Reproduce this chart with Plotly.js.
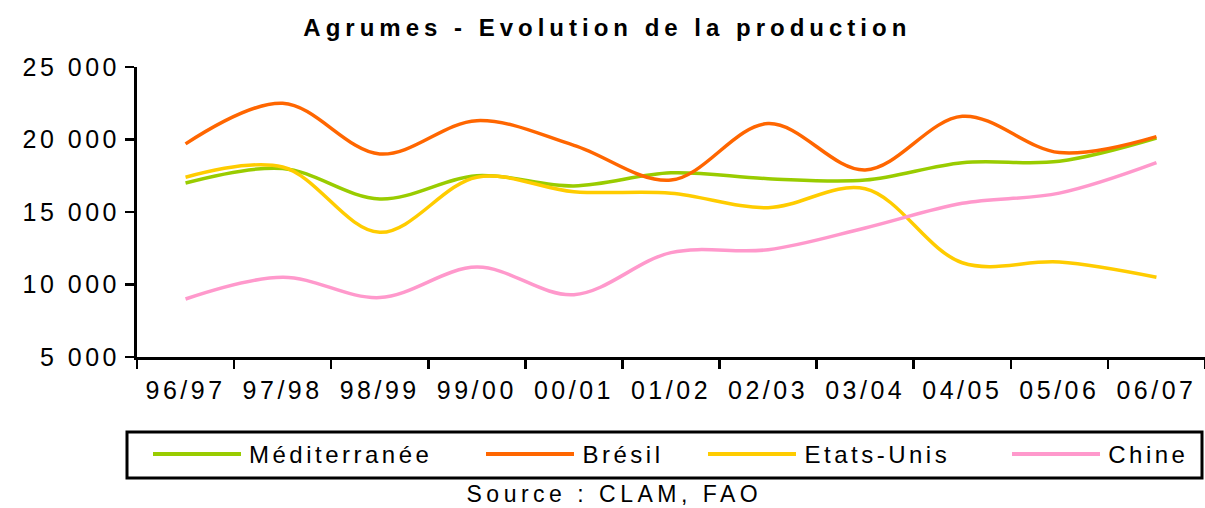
<!DOCTYPE html>
<html>
<head>
<meta charset="utf-8">
<script src="https://cdn.plot.ly/plotly-3.0.1.min.js"></script>
<style>
  html, body { margin: 0; padding: 0; background: #fff; }
  #chart { width: 1205px; height: 508px; }
  .main-svg text { letter-spacing: 3.5px; }
  .gtitle { letter-spacing: 5px !important; }
  .annotation text { letter-spacing: 3.5px; }
  .annotation[data-index="4"] text { letter-spacing: 4.5px !important; }
</style>
</head>
<body>
<div id="chart"></div>
<script>
const categories = ['96/97','97/98','98/99','99/00','00/01','01/02','02/03','03/04','04/05','05/06','06/07'];
const mediterranee = [17000, 18000, 15900, 17500, 16800, 17700, 17300, 17200, 18400, 18500, 20100];
const bresil       = [19700, 22500, 19000, 21300, 19600, 17200, 21100, 17900, 21600, 19100, 20200];
const etatsUnis    = [17400, 18100, 13600, 17400, 16400, 16300, 15300, 16600, 11500, 11550, 10500];
const chine        = [ 9000, 10500,  9100, 11200,  9300, 12200, 12400, 13900, 15600, 16300, 18400];

const seriesNames  = ['Méditerranée', 'Brésil', 'Etats-Unis', 'Chine'];
const seriesValues = [mediterranee, bresil, etatsUnis, chine];
const seriesColors = ['#99CC00', '#FF6600', '#FFCC00', '#FF99CC'];

const titleText  = 'Agrumes - Evolution de la production';
const sourceText = 'Source : CLAM, FAO';

// plot frame in pixels
const W = 1205, H = 508;
const mL = 137, mR = 0, mT = 67, mB = 151;
const plotW = W - mL - mR, plotH = H - mT - mB;
const px2x = p => (p - mL) / plotW;
const py2y = p => (H - mB - p) / plotH;
const FONT = 'Liberation Sans, Arial, sans-serif';

const traces = seriesNames.map((n, i) => ({
  type: 'scatter',
  mode: 'lines',
  name: n,
  x: categories,
  y: seriesValues[i],
  line: { color: seriesColors[i], width: 3.5, shape: 'spline', smoothing: 1 },
  hoverinfo: 'x+y+name'
}));

// legend (drawn as a framed box under the chart)
const legLineStart = [153, 486, 708, 1012];
const legLineLen = 88;
const legY = 454;
const legSpacing = 3.5;
const shapes = [{
  type: 'rect', xref: 'paper', yref: 'paper',
  x0: px2x(127), x1: px2x(1202), y0: py2y(432), y1: py2y(478),
  line: { color: '#000', width: 3 }, fillcolor: 'rgba(0,0,0,0)'
}];
const annotations = [];
seriesNames.forEach((n, i) => {
  shapes.push({
    type: 'line', xref: 'paper', yref: 'paper',
    x0: px2x(legLineStart[i]), x1: px2x(legLineStart[i] + legLineLen),
    y0: py2y(legY), y1: py2y(legY),
    line: { color: seriesColors[i], width: 4 }
  });
  annotations.push({
    xref: 'paper', yref: 'paper',
    x: px2x(legLineStart[i] + legLineLen + 6), y: py2y(legY),
    xanchor: 'left', yanchor: 'middle', showarrow: false,
    xshift: n.length * legSpacing / 2,
    text: n, font: { family: FONT, size: 24, color: '#000' }
  });
});
annotations.push({
  xref: 'paper', yref: 'paper',
  x: px2x(614), y: py2y(494),
  xanchor: 'center', yanchor: 'middle', showarrow: false,
  text: sourceText, font: { family: FONT, size: 23, color: '#000' }
});

const layout = {
  width: W, height: H,
  margin: { l: mL, r: mR, t: mT, b: mB, pad: 0 },
  paper_bgcolor: '#fff', plot_bgcolor: '#fff',
  separators: ', ',
  showlegend: false,
  title: {
    text: '<b>' + titleText + '</b>',
    x: 0.504, xanchor: 'center', y: 0.945, yanchor: 'middle',
    font: { family: FONT, size: 24, color: '#000' }
  },
  xaxis: {
    type: 'category',
    range: [-0.5, 10.5],
    showgrid: false, zeroline: false,
    showline: true, linecolor: '#000', linewidth: 3,
    ticks: 'outside', tickson: 'boundaries', ticklen: 9, tickwidth: 2.5, tickcolor: '#000',
    ticklabelstandoff: 9,
    tickfont: { family: FONT, size: 25, color: '#000' },
    fixedrange: true
  },
  yaxis: {
    range: [5000, 25000],
    tickmode: 'array',
    tickvals: [5000, 10000, 15000, 20000, 25000],
    tickformat: ',d',
    showgrid: false, zeroline: false,
    showline: true, linecolor: '#000', linewidth: 3,
    ticks: 'outside', ticklen: 9, tickwidth: 2.5, tickcolor: '#000',
    tickfont: { family: FONT, size: 25, color: '#000' },
    fixedrange: true
  },
  shapes: shapes,
  annotations: annotations
};

Plotly.newPlot('chart', traces, layout, { displayModeBar: false, staticPlot: true });
</script>
</body>
</html>
